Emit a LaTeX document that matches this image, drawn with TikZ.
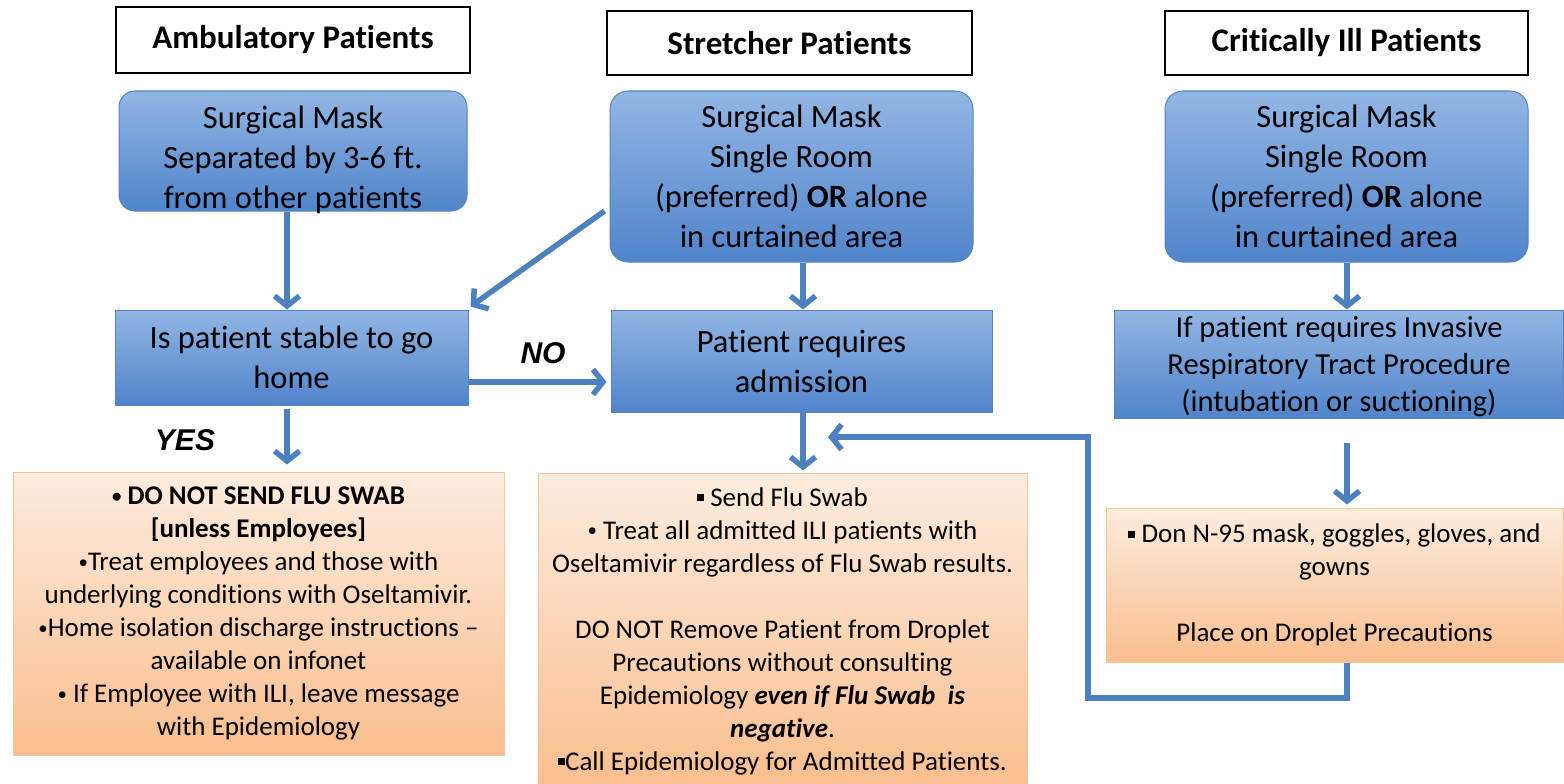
\documentclass[tikz,border=0pt]{standalone}
\usepackage{fontspec}
\setmainfont{Carlito}[Ligatures={NoCommon,NoContextual},Contextuals=NoAlternate]
\newfontfamily\arialfont{Liberation Sans}
\usetikzlibrary{arrows.meta}
\definecolor{bluetop}{RGB}{146,182,228}
\definecolor{bluebot}{RGB}{80,132,202}
\definecolor{blueline}{RGB}{84,132,192}
\definecolor{arrowc}{RGB}{76,128,190}
\definecolor{orangetop}{RGB}{253,236,222}
\definecolor{orangebot}{RGB}{249,190,142}
\definecolor{orangeline}{RGB}{247,196,154}
\newcommand{\sqbul}{\raisebox{0.18em}{\rule{0.26em}{0.26em}}}
\newcommand{\bul}{\raisebox{0.08em}{\scalebox{0.7}{•}}}
\begin{document}
\begin{tikzpicture}[x=1pt,y=-1pt,
  hdr/.style={draw=black, line width=1.5pt, fill=white, inner sep=0pt, align=center,
    font=\fontsize{33}{38}\selectfont\bfseries},
  bluebox/.style={draw=blueline, line width=1pt, top color=bluetop, bottom color=bluebot,
    inner sep=0pt, align=center, font=\fontsize{32.5}{40}\selectfont},
  orbox/.style={draw=orangeline, line width=1pt, top color=orangetop, bottom color=orangebot,
    inner sep=0pt, align=center, font=\fontsize{27}{33}\selectfont},
  txt/.style={inner sep=0pt, align=center},
  arr/.style={draw=arrowc, line width=5.5pt, -{Straight Barb[length=10pt,width=25pt]}},
  fb/.style={draw=arrowc, line width=5.5pt},
  lbl/.style={font=\arialfont\fontsize{30}{34}\selectfont\bfseries\itshape, inner sep=0pt}
]
\useasboundingbox (0,0) rectangle (1564,784);

% headers
\node[hdr, minimum width=354pt, minimum height=66pt] (h1) at (293,40) {Ambulatory Patients};
\node[hdr, minimum width=365pt, minimum height=64pt] (h2) at (789.5,43) {Stretcher Patients};
\node[hdr, minimum width=363pt, minimum height=64pt] (h3) at (1346.5,43) {Critically Ill Patients};

% top blue boxes
\node[bluebox, rounded corners=16pt, minimum width=348pt, minimum height=120pt] (a1) at (293,151) {};
\node[txt, font=\fontsize{32.5}{40}\selectfont] (a1t) at (293,160)
  {Surgical Mask\\Separated by 3-6 ft.\\from other patients};
\node[bluebox, rounded corners=18pt, minimum width=363pt, minimum height=171pt] (s1) at (791.5,176.5)
  {Surgical Mask\\Single Room\\(preferred) \textbf{OR} alone\\in curtained area};
\node[bluebox, rounded corners=18pt, minimum width=363pt, minimum height=171pt] (c1) at (1346.5,176.5)
  {Surgical Mask\\Single Room\\(preferred) \textbf{OR} alone\\in curtained area};

% middle blue boxes
\node[bluebox, minimum width=353pt, minimum height=95pt] (a2) at (291.5,357.5)
  {Is patient stable to go\\home};
\node[bluebox, minimum width=381pt, minimum height=102pt] (s2) at (801.5,361)
  {Patient requires\\admission};
\node[bluebox, minimum width=449pt, minimum height=108pt] (c2) at (1339,364)
  {};
\node[txt, font=\fontsize{30.5}{37}\selectfont] (c2t) at (1339,367)
  {If patient requires Invasive\\Respiratory Tract Procedure\\(intubation or suctioning)};

% orange boxes
\node[orbox, minimum width=491pt, minimum height=283pt] (a3) at (258.5,613.5)
  {\textbf{\bul\ DO NOT SEND FLU SWAB}\\\textbf{[unless Employees]}\\\bul Treat employees and those with\\underlying conditions with Oseltamivir.\\\bul Home isolation discharge instructions –\\available on infonet\\\bul\ If Employee with ILI, leave message\\with Epidemiology};
\node[orbox, minimum width=489pt, minimum height=316pt] (s3) at (782.5,631)
  {\sqbul\ Send Flu Swab\\\bul\ Treat all admitted ILI patients with\\Oseltamivir regardless of Flu Swab results.\\[33pt]DO NOT Remove Patient from Droplet\\Precautions without consulting\\Epidemiology \textbf{\textit{even if Flu Swab\ \ is}}\\\textbf{\textit{negative}}.\\\sqbul Call Epidemiology for Admitted Patients.};
\node[orbox, minimum width=457pt, minimum height=154pt] (c3) at (1334.5,585)
  {\sqbul\ Don N-95 mask, goggles, gloves, and\\gowns\\[33pt]Place on Droplet Precautions};

% labels
\node[lbl] (no) at (543,353) {NO};
\node[lbl] (yes) at (185,440) {YES};

% arrows
\draw[arr] (a1.south -| 287,0) -- (a2.north -| 287,0);
\draw[arr] ([xshift=-5pt]s1.west |- 0,211) -- ([xshift=2pt,yshift=3pt]a2.north east);
\draw[arr] (s1.south -| 803,0) -- (s2.north -| 803,0);
\draw[arr] (c1.south -| 1347,0) -- (c2.north -| 1347,0);
\draw[arr] (a2.east |- 0,382) -- ([xshift=-4pt]s2.west |- 0,382);
\draw[arr] ([yshift=-3pt]a2.south -| 287,0) -- ([yshift=7pt]a3.north -| 287,0);
\draw[arr] (s2.south -| 803,0) -- ([yshift=2pt]s3.north -| 803,0);
\draw[arr] ([yshift=-24pt]c2.south -| 1347,0) -- ([yshift=3pt]c3.north -| 1347,0);

% feedback connector
\coordinate (fbA) at (1347,698);
\coordinate (fbB) at (1088,698);
\coordinate (fbC) at (1088,437);
\coordinate (fbD) at (828,437);
\draw[fb, -{Straight Barb[length=10pt,width=25pt]}] (c3.south -| 1347,0) -- (fbA) -- (fbB) -- (fbC) -- (fbD);
\end{tikzpicture}
\end{document}
